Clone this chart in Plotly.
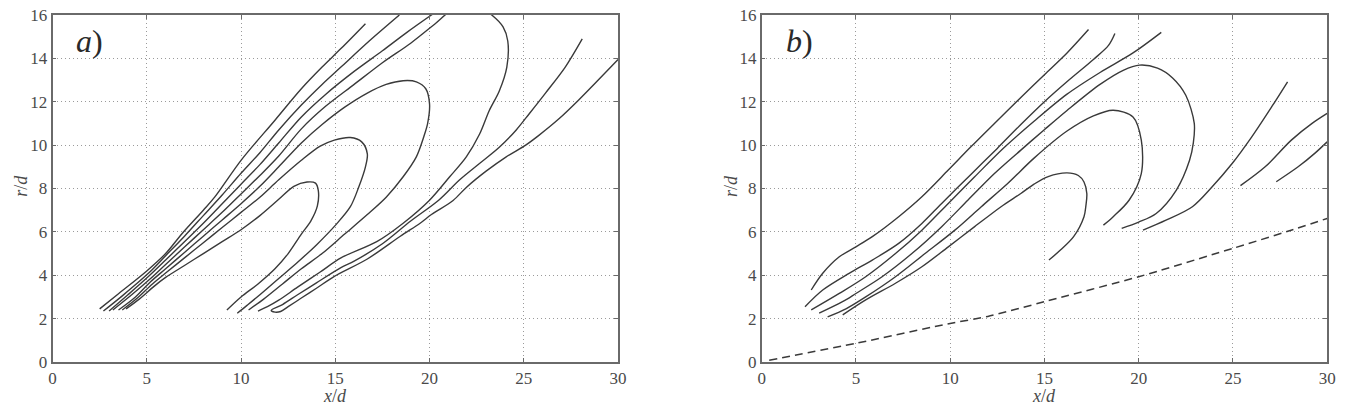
import plotly.graph_objects as go

# ---------------- data ----------------
x_ticks = [0, 5, 10, 15, 20, 25, 30]
r_ticks = [0, 2, 4, 6, 8, 10, 12, 14, 16]

# panel a) contour lines
a1_x = [2.5, 3.5, 5.0, 6.0, 6.9, 8.0, 8.6, 10.0, 11.8, 13.2, 14.3, 15.3, 16.6]
a1_r = [2.45, 3.15, 4.2, 5.0, 5.95, 7.0, 7.6, 9.3, 11.15, 12.6, 13.6, 14.45, 15.6]

a2_x = [2.7, 3.7, 5.1, 6.0, 7.0, 8.0, 9.0, 10.0, 11.0, 12.0, 13.2, 14.3, 15.3, 16.8, 18.4]
a2_r = [2.35, 3.05, 4.1, 4.9, 5.8, 6.75, 7.7, 8.7, 9.65, 10.7, 11.85, 12.8, 13.6, 14.8, 16.0]

a3_x = [3.0, 4.0, 5.1, 6.0, 7.0, 8.0, 9.0, 10.0, 11.0, 12.0, 13.2, 14.5, 16.0, 17.5, 18.8, 20.1, 20.6]
a3_r = [2.35, 3.1, 3.95, 4.7, 5.55, 6.4, 7.3, 8.2, 9.1, 10.1, 11.3, 12.35, 13.4, 14.35, 15.2, 16.0, 16.3]

a4_x = [3.2, 4.2, 5.2, 6.0, 7.0, 8.0, 9.0, 10.0, 11.0, 12.0, 13.2, 14.5, 16.0, 17.5, 19.0, 20.3,
        21.3, 22.4, 23.3, 23.9, 24.15, 24.1, 23.7, 23.17, 22.65, 21.95, 21.07, 20.0, 18.6, 17.2,
        15.3, 14.2, 13.0, 12.0, 11.4, 10.9]
a4_r = [2.4, 3.1, 3.85, 4.5, 5.3, 6.1, 6.9, 7.75, 8.6, 9.5, 10.75, 11.8, 12.8, 13.8, 14.7, 15.6,
        16.3, 16.5, 16.0, 15.45, 14.8, 13.6, 12.5, 11.6, 10.5, 9.46, 8.54, 7.46, 6.4, 5.55,
        4.8, 4.15, 3.45, 2.85, 2.55, 2.35]

a5_x = [3.5, 4.4, 5.2, 6.0, 7.0, 8.0, 9.0, 10.0, 11.0, 12.0, 13.2, 14.3, 15.5, 16.7, 17.7, 18.6,
        19.3, 19.8, 20.0, 19.9, 19.7, 19.3, 18.6, 17.7, 16.7, 15.5, 14.3, 13.2, 12.2, 11.2, 10.4]
a5_r = [2.4, 3.0, 3.7, 4.3, 5.05, 5.8, 6.55, 7.3, 8.1, 9.0, 10.1, 10.95, 11.75, 12.4, 12.8, 12.97,
        12.92, 12.6, 11.9, 11.0, 10.4, 9.46, 8.54, 7.6, 6.8, 5.9, 5.0, 4.3, 3.6, 2.9, 2.4]

a6_x = [3.7, 4.5, 5.3, 6.0, 7.0, 8.0, 9.0, 10.0, 11.0, 12.0, 13.2, 14.2, 14.95, 15.8, 16.4, 16.7,
        16.6, 16.25, 15.8, 15.0, 14.0, 13.0, 12.0, 11.0, 10.3, 9.8]
a6_r = [2.4, 2.95, 3.6, 4.1, 4.8, 5.5, 6.2, 6.9, 7.6, 8.4, 9.3, 9.95, 10.23, 10.35, 10.15, 9.6,
        9.0, 8.08, 7.16, 6.3, 5.4, 4.6, 3.85, 3.1, 2.6, 2.25]

a7_x = [3.9, 4.6, 5.4, 6.0, 7.0, 8.0, 9.0, 10.0, 11.0, 12.0, 12.8, 13.5, 13.95, 14.1, 14.05, 13.7,
        13.2, 12.5, 11.8, 10.9, 10.0, 9.25]
a7_r = [2.45, 2.9, 3.5, 3.9, 4.45, 5.0, 5.55, 6.1, 6.75, 7.5, 8.1, 8.3, 8.25, 7.9, 7.2, 6.5,
        5.9, 5.0, 4.3, 3.6, 3.0, 2.4]

a8_x = [28.1, 27.2, 26.15, 25.3, 24.6, 23.7, 22.65, 21.6, 20.5, 19.0, 17.5, 16.0, 15.3, 14.0,
        13.0, 12.2, 11.6, 11.8, 12.1, 12.5, 13.2, 14.0, 14.95, 16.7, 18.45, 19.5, 20.1,
        21.25, 21.95, 23.0, 24.05, 25.1, 25.8, 26.85, 27.9, 28.95, 30.0]
a8_r = [14.9, 13.6, 12.4, 11.46, 10.7, 9.9, 9.15, 8.4, 7.47, 6.5, 5.45, 4.65, 4.35, 3.65,
        3.1, 2.65, 2.38, 2.3, 2.33, 2.55, 2.95, 3.4, 3.95, 4.75, 5.8, 6.4, 6.8,
        7.45, 8.05, 8.8, 9.45, 10.0, 10.45, 11.2, 12.07, 13.0, 13.95]

# panel b) contour lines
b1_x = [2.63, 3.24, 4.12, 5.0, 5.87, 7.27, 8.5, 9.9, 11.1, 12.35, 13.75, 15.0, 16.2, 17.34]
b1_r = [3.32, 4.09, 4.85, 5.31, 5.78, 6.7, 7.62, 8.85, 9.92, 11.0, 12.2, 13.25, 14.25, 15.33]

b2_x = [2.3, 3.24, 4.64, 5.87, 7.27, 8.5, 9.55, 11.1, 12.5, 13.75, 15.0, 16.3, 17.6, 18.4, 18.74]
b2_r = [2.55, 3.32, 4.09, 4.7, 5.47, 6.39, 7.31, 8.65, 9.85, 10.95, 12.0, 13.0, 13.95, 14.6, 15.15]

b3_x = [2.63, 4.12, 5.52, 7.1, 8.5, 9.9, 11.3, 12.88, 14.45, 16.2, 17.95, 19.7, 21.2]
b3_r = [2.4, 3.16, 3.93, 5.0, 6.08, 7.31, 8.54, 9.9, 11.1, 12.35, 13.35, 14.25, 15.2]

b4_x = [3.05, 4.29, 5.0, 6.39, 7.97, 9.55, 10.95, 12.35, 13.75, 14.98, 16.2, 17.95, 19.18, 20.05,
        21.0, 21.8, 22.5, 22.95, 22.9, 22.7, 22.0, 20.93, 20.0, 19.1]
b4_r = [2.25, 2.78, 3.16, 3.93, 5.0, 6.24, 7.47, 8.69, 9.77, 10.7, 11.6, 12.8, 13.45, 13.69,
        13.55, 13.1, 12.3, 11.0, 10.1, 9.3, 7.93, 6.85, 6.45, 6.16]

b5_x = [3.5, 4.47, 5.52, 7.1, 8.67, 10.25, 11.65, 13.05, 14.45, 16.2, 17.6, 18.65, 19.7, 20.14,
        20.14, 19.5, 18.65, 18.13]
b5_r = [2.08, 2.45, 3.0, 3.93, 5.0, 6.08, 7.16, 8.23, 9.4, 10.65, 11.35, 11.61, 11.3, 10.23,
        8.69, 7.47, 6.7, 6.31]

b6_x = [4.3, 5.52, 7.1, 8.5, 9.9, 11.3, 12.7, 13.75, 14.45, 15.2, 16.2, 16.8, 17.1, 17.25, 17.2,
        17.1, 16.55, 15.85, 15.24]
b6_r = [2.17, 2.86, 3.63, 4.39, 5.31, 6.24, 7.16, 7.77, 8.2, 8.55, 8.72, 8.6, 8.3, 7.77, 7.2,
        6.7, 5.78, 5.16, 4.7]

b7_x = [20.23, 21.45, 22.85, 23.9, 24.96, 26.0, 27.06, 27.9]
b7_r = [6.08, 6.54, 7.16, 8.08, 9.15, 10.38, 11.77, 12.92]

b8_x = [25.4, 26.71, 28.1, 29.2, 30.0]
b8_r = [8.13, 9.0, 10.23, 11.0, 11.46]

b9_x = [27.3, 28.46, 29.34, 30.0]
b9_r = [8.31, 9.0, 9.62, 10.15]

# panel b) dashed line
bd_x = [0.4, 5.0, 10.0, 12.0, 15.0, 20.0, 25.0, 28.0, 30.0]
bd_r = [0.08, 0.86, 1.78, 2.1, 2.78, 3.93, 5.24, 6.05, 6.62]

# ---------------- figure ----------------
W, H = 1353, 408
ML, MR, MT, MB = 0, 0, 15, 46
LINE_C = "#3a3a3a"
FRAME_C = "#6a6a6a"
GRID_C = "#9a9a9a"
TEXT_C = "#4a4a4a"
SERIF = "Liberation Serif, DejaVu Serif, serif"

fig = go.Figure()

panel_a = [(a1_x, a1_r), (a2_x, a2_r), (a3_x, a3_r), (a4_x, a4_r), (a5_x, a5_r),
           (a6_x, a6_r), (a7_x, a7_r), (a8_x, a8_r)]
panel_b = [(b1_x, b1_r), (b2_x, b2_r), (b3_x, b3_r), (b4_x, b4_r), (b5_x, b5_r),
           (b6_x, b6_r), (b7_x, b7_r), (b8_x, b8_r), (b9_x, b9_r)]

for xs, rs in panel_a:
    fig.add_trace(go.Scatter(x=xs, y=rs, mode="lines", xaxis="x", yaxis="y",
                             line=dict(color=LINE_C, width=1.4, shape="spline", smoothing=0.9),
                             hoverinfo="skip", showlegend=False))
for xs, rs in panel_b:
    fig.add_trace(go.Scatter(x=xs, y=rs, mode="lines", xaxis="x2", yaxis="y2",
                             line=dict(color=LINE_C, width=1.4, shape="spline", smoothing=0.9),
                             hoverinfo="skip", showlegend=False))
fig.add_trace(go.Scatter(x=bd_x, y=bd_r, mode="lines", xaxis="x2", yaxis="y2",
                         line=dict(color=LINE_C, width=1.5, dash="8px,5px", shape="spline", smoothing=0.5),
                         hoverinfo="skip", showlegend=False))

def common_axis():
    return dict(showgrid=True, gridcolor=GRID_C, griddash="1px,3px", gridwidth=1,
                showline=True, linecolor=FRAME_C, linewidth=1.6, mirror="ticks",
                ticks="inside", ticklen=4, tickcolor=FRAME_C, zeroline=False,
                tickfont=dict(family=SERIF, size=17, color=TEXT_C), fixedrange=True)

def xaxis(domain, anchor):
    d = common_axis()
    d.update(domain=domain, anchor=anchor, range=[0, 30], tickvals=x_ticks,
             ticktext=[str(v) for v in x_ticks])
    return d

def yaxis(anchor):
    d = common_axis()
    d.update(domain=[0, 1], anchor=anchor, range=[0, 16], tickvals=r_ticks,
             ticktext=[str(v) for v in r_ticks])
    return d

fig.update_layout(
    width=W, height=H, margin=dict(l=ML, r=MR, t=MT, b=MB),
    paper_bgcolor="white", plot_bgcolor="white",
    xaxis=xaxis([49 / W, 620 / W], "y"),
    yaxis=yaxis("x"),
    xaxis2=xaxis([765 / W, 1336 / W], "y2"),
    yaxis2=yaxis("x2"),
)

plot_h = H - MT - MB
def py(p):
    return (H - MB - p) / plot_h

annots = [
    dict(text="<i>a</i>)", x=86 / W, y=py(41)),
    dict(text="<i>b</i>)", x=803 / W, y=py(41)),
]
for a in annots:
    fig.add_annotation(xref="paper", yref="paper", x=a["x"], y=a["y"], text=a["text"],
                       showarrow=False, xanchor="center", yanchor="middle",
                       font=dict(family=SERIF, size=32, color="#2a2a2a"))

for cx in (334.5, 1050.5):
    fig.add_annotation(xref="paper", yref="paper", x=cx / W, y=py(408), text="<i>x</i>/<i>d</i>",
                       showarrow=False, xanchor="center", yanchor="bottom",
                       font=dict(family=SERIF, size=18, color=TEXT_C))
for cx in (17, 734):
    fig.add_annotation(xref="paper", yref="paper", x=cx / W, y=py(186), text="<i>r</i>/<i>d</i>",
                       showarrow=False, xanchor="center", yanchor="middle", textangle=-90,
                       font=dict(family=SERIF, size=18, color=TEXT_C))

fig.write_html("out.html")
